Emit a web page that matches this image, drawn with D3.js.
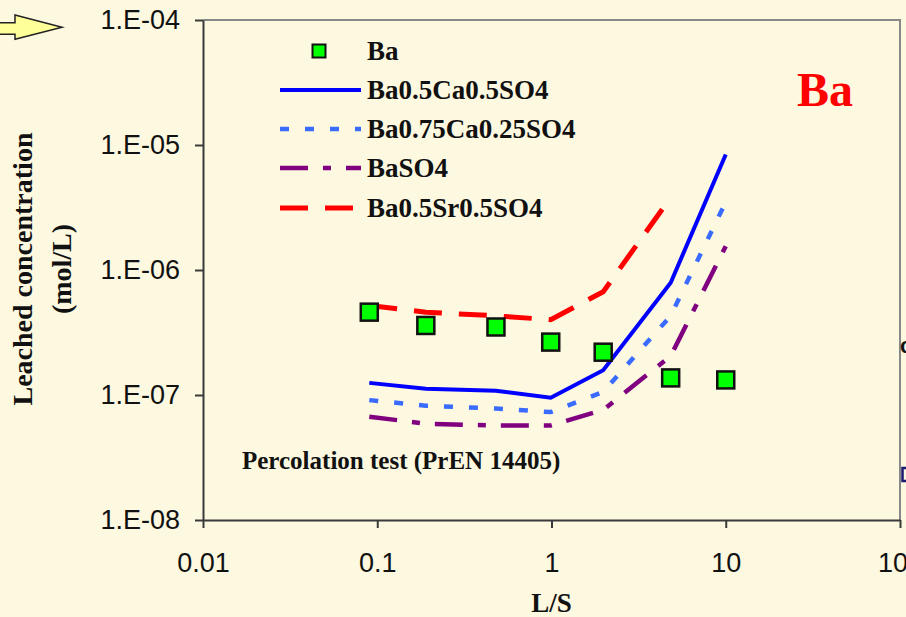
<!DOCTYPE html>
<html>
<head>
<meta charset="utf-8">
<script src="https://cdn.jsdelivr.net/npm/d3@7"></script>
<style>
  html, body { margin: 0; padding: 0; background: #FDF8E0; }
  svg { display: block; }
</style>
</head>
<body>
<svg id="chart-svg" width="906" height="617"></svg>
<script>
// data
let lsValues = [0.09, 0.19, 0.48, 0.99, 1.98, 4.83, 10];
let baMeasured = [4.6e-7, 3.6e-7, 3.5e-7, 2.65e-7, 2.2e-7, 1.37e-7, 1.32e-7];
let baCa05 = [1.25e-7, 1.12e-7, 1.08e-7, 9.5e-8, 1.58e-7, 7.9e-7, 8.4e-6];
let baCa025 = [9.1e-8, 8.2e-8, 7.8e-8, 7.3e-8, 1.06e-7, 4.3e-7, 3.5e-6];
let baSO4 = [6.7e-8, 5.9e-8, 5.7e-8, 5.7e-8, 7.6e-8, 2.05e-7, 1.55e-6];
let baSr05 = [5.2e-7, 4.6e-7, 4.3e-7, 4.0e-7, 6.7e-7, 3.8e-6];

let seriesNames = ['Ba', 'Ba0.5Ca0.5SO4', 'Ba0.75Ca0.25SO4', 'BaSO4', 'Ba0.5Sr0.5SO4'];
let xTickValues = [0.01, 0.1, 1, 10, 100];
let xTickLabels = ['0.01', '0.1', '1', '10', '100'];
let yTickValues = [1e-8, 1e-7, 1e-6, 1e-5, 1e-4];
let yTickLabels = ['1.E-08', '1.E-07', '1.E-06', '1.E-05', '1.E-04'];

// line styles
let lineStyles = [
    {values: baCa05, color: '#0000FF', dash: null, width: 4},
    {values: baCa025, color: '#3A6BFF', dash: '9,16', width: 4.5},
    {values: baSO4, color: '#800080', dash: '28,15,8,15', width: 4.5},
    {values: baSr05, color: '#FF0000', dash: '28,17', width: 5}
];

let svg = d3.select('#chart-svg');
let pad = {t: 20, r: 6, b: 97, l: 203};
let plotW = 900 - pad.l;
let plotH = 500;

let xScale = d3.scaleLog().domain([0.01, 100]).range([pad.l, pad.l + plotW]);
let yScale = d3.scaleLog().domain([1e-8, 1e-4]).range([pad.t + plotH, pad.t]);

let serif = '"Liberation Serif", "Times New Roman", serif';
let sans = '"Liberation Sans", Arial, sans-serif';

// background
svg.append('rect')
    .attr('width', 906).attr('height', 617)
    .attr('fill', '#FDF8E0');

// arrow at top left
svg.append('polygon')
    .attr('points', '-5,22.7 15,22.7 15,15 62,27.3 15,39.3 15,34.3 -5,34.3')
    .attr('fill', '#FFFF99')
    .attr('stroke', '#222')
    .attr('stroke-width', 1.5);

// frame: top and right in grey
svg.append('path')
    .attr('d', `M${xScale(0.01)},${yScale(1e-4)}H${xScale(100)}V${yScale(1e-8)}`)
    .attr('fill', 'none')
    .attr('stroke', '#888')
    .attr('stroke-width', 2);

// axes
let yAxis = d3.axisLeft(yScale)
    .tickValues(yTickValues)
    .tickFormat((d, i) => yTickLabels[i])
    .tickSizeInner(8).tickSizeOuter(0)
    .tickPadding(15);
let yAxisG = svg.append('g')
    .attr('class', 'y axis')
    .attr('transform', `translate(${pad.l},0)`)
    .call(yAxis);

let xAxis = d3.axisBottom(xScale)
    .tickValues(xTickValues)
    .tickFormat((d, i) => xTickLabels[i])
    .tickSizeInner(8).tickSizeOuter(0)
    .tickPadding(25);
let xAxisG = svg.append('g')
    .attr('class', 'x axis')
    .attr('transform', `translate(0,${pad.t + plotH})`)
    .call(xAxis);

svg.selectAll('.axis path, .axis line')
    .attr('stroke', '#3a3a3a')
    .attr('stroke-width', 2);
svg.selectAll('.axis text')
    .attr('fill', '#111')
    .style('font-family', sans)
    .style('font-size', '27px');

// axis titles
svg.append('text')
    .attr('transform', 'translate(32,269) rotate(-90)')
    .attr('text-anchor', 'middle')
    .style('font-family', serif).style('font-weight', 'bold').style('font-size', '28px')
    .attr('fill', '#111')
    .text('Leached concentration');
svg.append('text')
    .attr('transform', 'translate(71,269) rotate(-90)')
    .attr('text-anchor', 'middle')
    .style('font-family', serif).style('font-weight', 'bold').style('font-size', '28px')
    .attr('fill', '#111')
    .text('(mol/L)');
svg.append('text')
    .attr('x', xScale(1))
    .attr('y', 612)
    .attr('text-anchor', 'middle')
    .style('font-family', serif).style('font-weight', 'bold').style('font-size', '27px')
    .attr('fill', '#111')
    .text('L/S');

// model lines
let lineFun = d3.line()
    .x((d, i) => xScale(lsValues[i]))
    .y(d => yScale(d));

let linesG = svg.append('g').attr('class', 'lines');
lineStyles.forEach(s => {
    linesG.append('path')
        .datum(s.values)
        .attr('d', lineFun)
        .attr('fill', 'none')
        .attr('stroke', s.color)
        .attr('stroke-width', s.width)
        .attr('stroke-dasharray', s.dash);
});

// measured Ba squares
svg.append('g').attr('class', 'points')
    .selectAll('rect')
    .data(baMeasured)
    .join('rect')
    .attr('x', (d, i) => xScale(lsValues[i]) - 8.5)
    .attr('y', d => yScale(d) - 8.5)
    .attr('width', 17)
    .attr('height', 17)
    .attr('fill', '#00FF00')
    .attr('stroke', '#111')
    .attr('stroke-width', 2.5);

// legend
let legend = svg.append('g').attr('class', 'legend');
let legendRowsY = [51, 90, 129, 168, 208];
legend.append('rect')
    .attr('x', 319 - 6.5).attr('y', legendRowsY[0] - 6.5)
    .attr('width', 13).attr('height', 13)
    .attr('fill', '#00FF00')
    .attr('stroke', '#111')
    .attr('stroke-width', 2);
lineStyles.forEach((s, i) => {
    legend.append('line')
        .attr('x1', 280).attr('x2', 361)
        .attr('y1', legendRowsY[i + 1]).attr('y2', legendRowsY[i + 1])
        .attr('stroke', s.color)
        .attr('stroke-width', s.width)
        .attr('stroke-dasharray', s.dash);
});
legend.selectAll('text')
    .data(seriesNames)
    .join('text')
    .attr('x', 367)
    .attr('y', (d, i) => legendRowsY[i] + 9)
    .style('font-family', serif).style('font-weight', 'bold').style('font-size', '27px')
    .attr('fill', '#111')
    .text(d => d);

// big red label
svg.append('text')
    .attr('x', 797).attr('y', 106)
    .style('font-family', serif).style('font-weight', 'bold').style('font-size', '48px')
    .attr('fill', '#FF0000')
    .text('Ba');

// test note
svg.append('text')
    .attr('x', 242).attr('y', 469)
    .style('font-family', serif).style('font-weight', 'bold').style('font-size', '25px')
    .attr('fill', '#111')
    .text('Percolation test (PrEN 14405)');

// bits of the neighbouring slide content cut at the right edge
svg.append('text')
    .attr('x', 900).attr('y', 353)
    .style('font-family', sans).style('font-weight', 'bold').style('font-size', '22px')
    .attr('fill', '#111')
    .text('c');
svg.append('path')
    .attr('d', 'M907,468H902.5V481H907')
    .attr('fill', 'none')
    .attr('stroke', '#1a1a6e')
    .attr('stroke-width', 2.5);
</script>
</body>
</html>
